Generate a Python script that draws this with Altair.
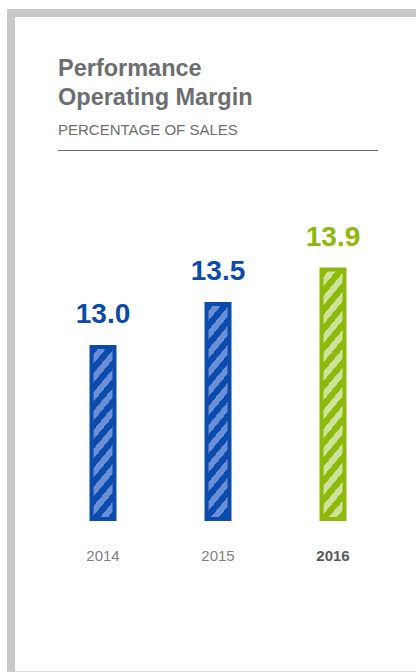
import math
import altair as alt
import pandas as pd

# ---------------- data ----------------
years = ["2014", "2015", "2016"]
margins = [13.0, 13.5, 13.9]
title_lines = ["Performance", "Operating Margin"]
subtitle_text = "PERCENTAGE OF SALES"

# ---------------- style ----------------
W, H = 416, 672
BLUE, BLUE_LIGHT = "#0a4bab", "#6a8fd6"
GREEN, GREEN_LIGHT = "#8dba0a", "#cfe29a"
TITLE_GRAY = "#6d6e71"
FRAME_GRAY = "#c9c9c9"
FONT = "Liberation Sans"

Y_DOMAIN = [11, 14.5]
Y_RANGE = [519, 218]
X_RANGE = [45.5, 390.5]
BAR_SIZE = 23
STRIPE_SLOPE = 1.2
STRIPE_PERIOD = 19.0
STRIPE_FRAC = 0.5

px_per_unit = (Y_RANGE[0] - Y_RANGE[1]) / (Y_DOMAIN[1] - Y_DOMAIN[0])


def stripe_gradient(value, dark, light):
    w = BAR_SIZE
    h = (value - Y_DOMAIN[0]) * px_per_unit
    a = STRIPE_SLOPE
    gx, gy = a / h, 1.0 / w
    s = (gx + gy) / (gx * gx + gy * gy)
    n = (a * w + h) / STRIPE_PERIOD
    stops = []
    k = 0
    while k / n < 1:
        o0 = k / n
        o1 = min((k + STRIPE_FRAC) / n, 1)
        o2 = min((k + 1) / n, 1)
        stops += [
            {"offset": o0, "color": dark},
            {"offset": o1, "color": dark},
            {"offset": o1, "color": light},
            {"offset": o2, "color": light},
        ]
        k += 1
    return {"gradient": "linear", "x1": 0, "y1": 0, "x2": gx * s, "y2": gy * s,
            "stops": stops}


df = pd.DataFrame({"year": years, "margin": margins})
one = pd.DataFrame({"k": [0]})

x_enc = alt.X("year:N", scale=alt.Scale(domain=years, range=X_RANGE,
                                         paddingInner=0, paddingOuter=0), axis=None)
y_enc = alt.Y("margin:Q", scale=alt.Scale(domain=Y_DOMAIN, range=Y_RANGE, zero=False),
              axis=None)

base = alt.Chart(df)

# frame decorations
frame_left = alt.Chart(one).mark_rect(color=FRAME_GRAY).encode(
    x=alt.value(7), x2=alt.value(15), y=alt.value(9), y2=alt.value(H))
frame_top = alt.Chart(one).mark_rect(color=FRAME_GRAY).encode(
    x=alt.value(7), x2=alt.value(W), y=alt.value(9), y2=alt.value(17))
frame_bottom = alt.Chart(one).mark_rule(color="#dddddd", strokeWidth=1).encode(
    x=alt.value(15), x2=alt.value(W), y=alt.value(671.5))

# titles
t1 = alt.Chart(one).mark_text(text=title_lines[0], font=FONT, fontSize=23.5, fontWeight="bold",
                              color=TITLE_GRAY, align="left", baseline="alphabetic").encode(
    x=alt.value(58), y=alt.value(76))
t2 = alt.Chart(one).mark_text(text=title_lines[1], font=FONT, fontSize=23.5, fontWeight="bold",
                              color=TITLE_GRAY, align="left", baseline="alphabetic").encode(
    x=alt.value(58), y=alt.value(105))
st = alt.Chart(one).mark_text(text=subtitle_text, font=FONT, fontSize=15,
                              color=TITLE_GRAY, align="left", baseline="alphabetic").encode(
    x=alt.value(58), y=alt.value(135))
rule = alt.Chart(one).mark_rule(color=TITLE_GRAY, strokeWidth=1).encode(
    x=alt.value(58), x2=alt.value(378), y=alt.value(150.5))

# bars
bar_layers = []
for yr, val in zip(years, margins):
    dark, light = (GREEN, GREEN_LIGHT) if yr == years[-1] else (BLUE, BLUE_LIGHT)
    bar_layers.append(
        base.transform_filter(alt.datum.year == yr).mark_bar(
            size=BAR_SIZE, fill=stripe_gradient(val, dark, light), stroke=dark,
            strokeWidth=4, strokeJoin="miter"
        ).encode(x=x_enc, y=y_enc, y2=alt.datum(Y_DOMAIN[0]))
    )

labels = base.mark_text(font=FONT, fontSize=28, fontWeight="bold", dy=-24,
                        baseline="alphabetic", align="center").encode(
    x=x_enc, y=y_enc,
    text=alt.Text("margin:Q", format=".1f"),
    color=alt.Color("year:N", scale=alt.Scale(domain=years, range=[BLUE, BLUE, GREEN]),
                    legend=None),
)

year_norm = base.transform_filter(alt.datum.year != years[-1]).mark_text(
    font=FONT, fontSize=15, color="#808080", baseline="alphabetic", align="center").encode(
    x=x_enc, y=alt.value(561), text="year:N")
year_bold = base.transform_filter(alt.datum.year == years[-1]).mark_text(
    font=FONT, fontSize=15, fontWeight="bold", color="#58595b", baseline="alphabetic",
    align="center").encode(x=x_enc, y=alt.value(561), text="year:N")

chart = alt.layer(frame_left, frame_top, frame_bottom, t1, t2, st, rule,
                  *bar_layers, labels, year_norm, year_bold).properties(
    width=W, height=H, autosize=alt.AutoSizeParams(type="none"), padding=0,
    background="white"
).configure_view(stroke=None)

chart.save("out.html", embed_options={"renderer": "svg", "actions": False})
